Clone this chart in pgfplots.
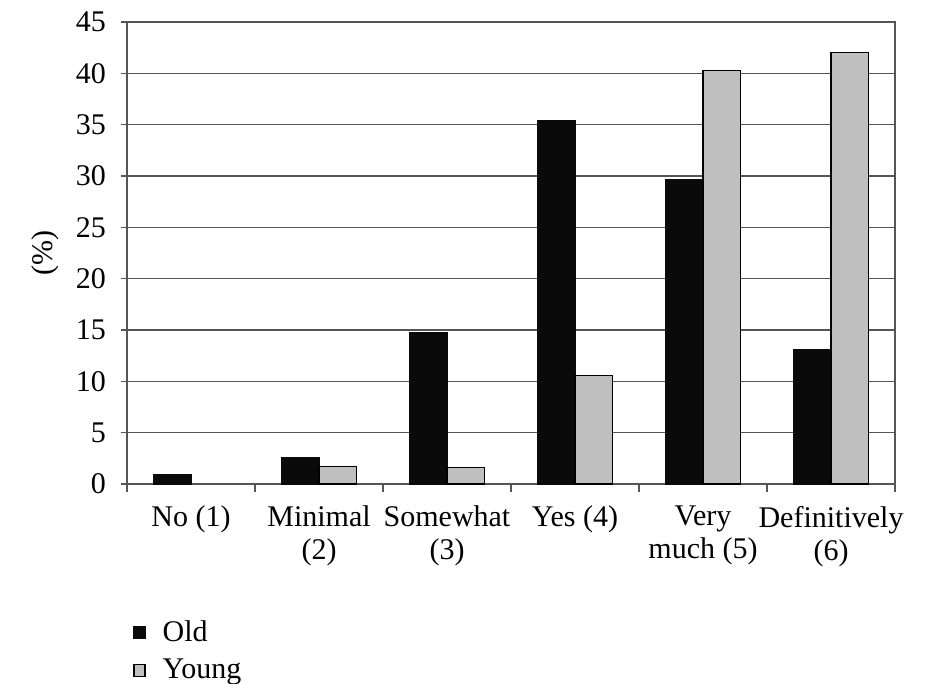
\documentclass[border=0pt]{standalone}
\usepackage{fontspec}
\setmainfont{Liberation Serif}
\usepackage{pgfplots}
\pgfplotsset{compat=1.18}
\definecolor{barblack}{HTML}{0A0A0A}
\definecolor{bargray}{HTML}{BFBFBF}
\definecolor{axisgray}{HTML}{555555}
\begin{document}
\begin{tikzpicture}
\path[use as bounding box] (-63.5pt,-100pt) rectangle (401.5pt,242pt);
\begin{axis}[
  at={(0,0)}, anchor=south west,
  width=384pt, height=231pt, scale only axis,
  ybar=0pt, bar width=0.29,
  xmin=-0.5, xmax=5.5,
  ymin=0, ymax=45,
  ytick={0,5,...,45},
  xtick={0,...,5},
  xticklabels={No (1), Minimal\\(2), Somewhat\\(3), Yes (4), Very\\much (5), Definitively\\(6)},
  major x tick style={draw=none},
  minor xtick={-0.5,0.5,...,5.5},
  minor x tick style={draw=axisgray, line width=0.8pt},
  minor tick length=4pt,
  major tick length=3pt,
  tick align=outside,
  xtick pos=bottom, ytick pos=left,
  ymajorgrids,
  grid style={axisgray, line width=0.8pt},
  axis line style={axisgray, line width=0.8pt},
  ytick style={axisgray, line width=0.8pt},
  tick label style={font=\fontsize{15}{16.5}\selectfont},
  xticklabel style={align=center, anchor=north, yshift=-4.5pt},
  yticklabel style={xshift=-4pt},
  /pgf/number format/assume math mode=true,
  ylabel={(\%)},
  ylabel style={font=\fontsize{15}{16}\selectfont, at={(axis description cs:-0.107,0.5)}, anchor=center},
  legend style={at={(axis description cs:0,-0.277)}, anchor=north west, draw=none,
    font=\fontsize{15}{19}\selectfont, row sep=3.5pt, cells={anchor=west}},
  legend image code/.code={\draw[#1, line width=0.6pt] (0pt,-3pt) rectangle (5.5pt,3pt); \path (12pt,0pt);},
]
\addplot[fill=barblack, draw=barblack] coordinates {(0,0.9) (1,2.6) (2,14.8) (3,35.4) (4,29.7) (5,13.1)};
\addplot[fill=bargray, draw=black, line width=0.6pt] coordinates {(1,1.7) (2,1.6) (3,10.6) (4,40.3) (5,42.0)};
\legend{Old, Young}
\end{axis}
\end{tikzpicture}
\end{document}
